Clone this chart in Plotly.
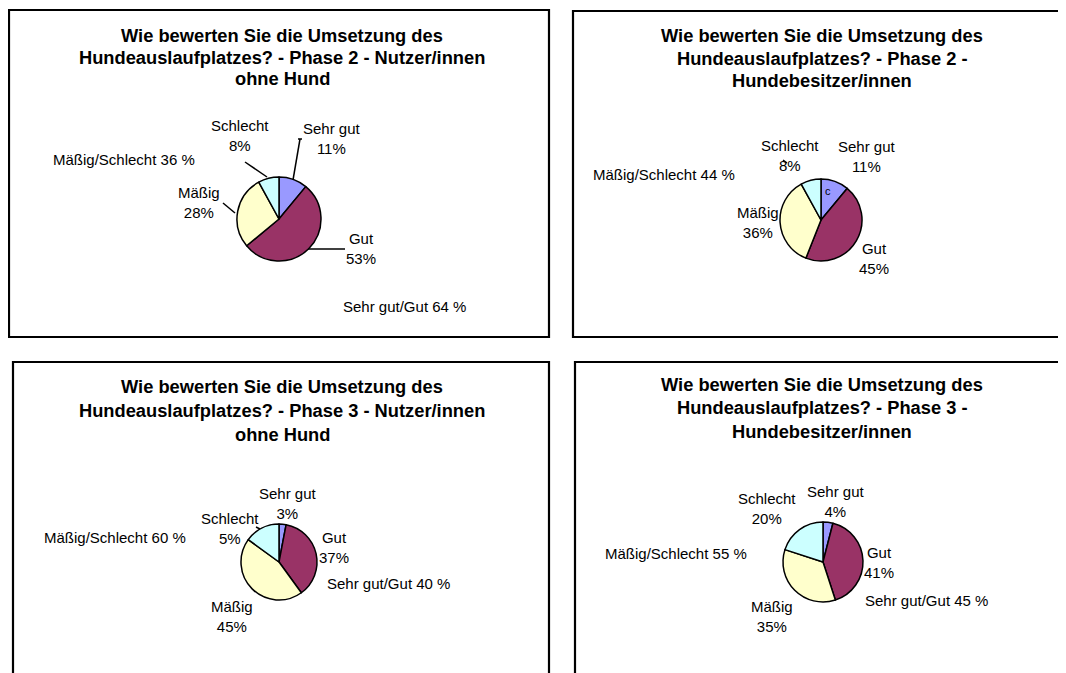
import plotly.graph_objects as go

OFF = 8  # page body margin in the browser
W, H = 1066 - OFF, 673 - OFF

categories = ["Sehr gut", "Gut", "Mäßig", "Schlecht"]
colors = ["#9999FF", "#993366", "#FFFFCC", "#CCFFFF"]

# values per chart (percent)
values_p2_ohne = [11, 53, 28, 8]
values_p2_hund = [11, 45, 36, 8]
values_p3_ohne = [3, 37, 45, 15]
values_p3_hund = [4, 41, 35, 20]

# percent labels as printed in the chart
pct_p2_ohne = ["11%", "53%", "28%", "8%"]
pct_p2_hund = ["11%", "45%", "36%", "8%"]
pct_p3_ohne = ["3%", "37%", "45%", "5%"]
pct_p3_hund = ["4%", "41%", "35%", "20%"]

titles = [
    ["Wie bewerten Sie die Umsetzung des", "Hundeauslaufplatzes? - Phase 2 - Nutzer/innen", "ohne Hund"],
    ["Wie bewerten Sie die Umsetzung des", "Hundeauslaufplatzes? - Phase 2 -", "Hundebesitzer/innen"],
    ["Wie bewerten Sie die Umsetzung des", "Hundeauslaufplatzes? - Phase 3 - Nutzer/innen", "ohne Hund"],
    ["Wie bewerten Sie die Umsetzung des", "Hundeauslaufplatzes? - Phase 3 -", "Hundebesitzer/innen"],
]
summary_bad = ["Mäßig/Schlecht 36 %", "Mäßig/Schlecht 44 %", "Mäßig/Schlecht 60 %", "Mäßig/Schlecht 55 %"]
summary_good = ["Sehr gut/Gut 64 %", None, "Sehr gut/Gut 40 %", "Sehr gut/Gut 45 %"]

FONT = "Liberation Sans, Arial, sans-serif"
TITLE_SIZE = 18.3
LABEL_SIZE = 15


def px(x):
    return (x - OFF) / W


def py(y):
    return 1 - (y - OFF) / H


# box: (left, top, right, bottom, sides drawn)
charts = [
    dict(values=values_p2_ohne, pct=pct_p2_ohne, center=(279, 219), r=42,
         box=(9, 10, 549, 337, "ltrb"), title_xy=(282, 35), title_dy=22,
         lab=[(332, 138), (361, 248), (199, 202), (240, 135)],
         bad_xy=(124, 160), good_xy=(404, 306)),
    dict(values=values_p2_hund, pct=pct_p2_hund, center=(821, 220), r=41,
         box=(573, 11, 1090, 337, "ltb"), title_xy=(822, 35), title_dy=23,
         lab=[(867, 156), (874, 258), (758, 222), (790, 155)],
         bad_xy=(664, 174), good_xy=None),
    dict(values=values_p3_ohne, pct=pct_p3_ohne, center=(279, 562), r=38,
         box=(13, 362, 549, 700, "ltr"), title_xy=(282, 386), title_dy=24,
         lab=[(288, 503), (334, 547), (232, 616), (230, 528)],
         bad_xy=(115, 537), good_xy=(388, 583)),
    dict(values=values_p3_hund, pct=pct_p3_hund, center=(823, 562), r=40,
         box=(575, 362, 1090, 700, "lt"), title_xy=(822, 384), title_dy=23.5,
         lab=[(836, 501), (879, 562), (772, 616), (767, 508)],
         bad_xy=(676, 553), good_xy=(926, 600)),
]

fig = go.Figure()
shapes = []
annotations = []


def add_text(text, x, y, size, bold=False):
    annotations.append(dict(text=("<b>%s</b>" % text) if bold else text,
                            x=px(x), y=py(y), xref="paper", yref="paper",
                            showarrow=False, xanchor="center", yanchor="middle",
                            font=dict(family=FONT, size=size, color="black")))


def add_line(a, b, width=1.5):
    shapes.append(dict(type="line", xref="paper", yref="paper",
                       x0=px(a[0]), y0=py(a[1]), x1=px(b[0]), y1=py(b[1]),
                       line=dict(color="black", width=width)))


for i, c in enumerate(charts):
    cx, cy = c["center"]
    r = c["r"]
    fig.add_trace(go.Pie(
        labels=categories, values=c["values"], sort=False, direction="clockwise",
        rotation=0, textinfo="none", hoverinfo="label+percent", showlegend=False,
        marker=dict(colors=colors, line=dict(color="black", width=1.5)),
        domain=dict(x=[px(cx - r), px(cx + r)], y=[py(cy + r), py(cy - r)]),
    ))
    x0, y0, x1, y1, sides = c["box"]
    if "l" in sides:
        add_line((x0, y0 - 1), (x0, y1 + 1), 2.2)
    if "t" in sides:
        add_line((x0 - 1, y0), (x1 + 1, y0), 2.2)
    if "r" in sides:
        add_line((x1, y0 - 1), (x1, y1 + 1), 2.2)
    if "b" in sides:
        add_line((x0 - 1, y1), (x1 + 1, y1), 2.2)
    tx, ty = c["title_xy"]
    for j, line in enumerate(titles[i]):
        add_text(line, tx, ty + j * c["title_dy"], TITLE_SIZE, bold=True)
    for k, (lx, ly) in enumerate(c["lab"]):
        add_text(categories[k] + "<br>" + c["pct"][k], lx, ly, LABEL_SIZE)
    bx, by = c["bad_xy"]
    add_text(summary_bad[i], bx, by, LABEL_SIZE)
    if c["good_xy"] is not None:
        gx, gy = c["good_xy"]
        add_text(summary_good[i], gx, gy, LABEL_SIZE)

# leader lines and small artefacts
leaders = [
    ((245, 162), (267, 177)),
    ((300, 139), (293, 180)),
    ((298, 139), (302, 139)),
    ((223, 203), (235, 213)),
    ((308, 249), (345, 249)),
    ((256, 527), (260, 529)),
    ((783, 160), (787, 163)),
]
for (a, b) in leaders:
    add_line(a, b)

add_text("c", 828, 191, 11)

fig.update_layout(
    width=W, height=H, margin=dict(l=0, r=0, t=0, b=0),
    paper_bgcolor="white", plot_bgcolor="white",
    shapes=shapes, annotations=annotations,
)

fig.write_html("out.html")
